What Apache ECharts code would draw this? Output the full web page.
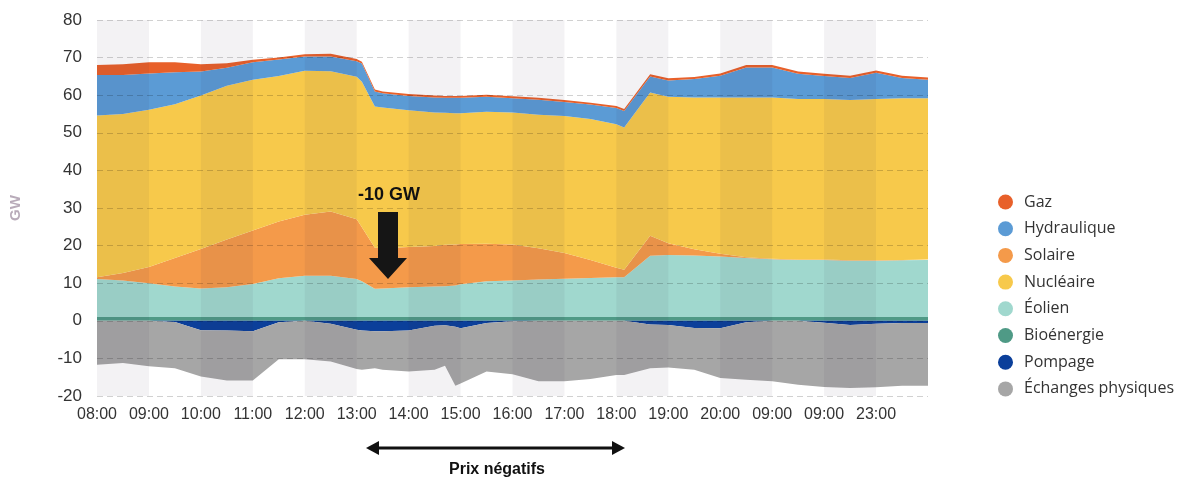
<!DOCTYPE html>
<html><head><meta charset="utf-8">
<script src="https://cdn.jsdelivr.net/npm/echarts@6/dist/echarts.min.js"></script>
<style>html,body{margin:0;padding:0;background:#fff}#c{width:1179px;height:479px}</style>
</head><body><div id="c"></div>
<script>
// Tick labels (one per column boundary)
const timeLabels = ['08:00','09:00','10:00','11:00','12:00','13:00','14:00','15:00','16:00','17:00','18:00','19:00','20:00','09:00','09:00','23:00'];
// Sample positions, in column units along the x axis
const xPos = [0,0.5,1,1.5,2,2.5,3,3.5,4,4.5,5,5.1,5.35,5.5,6,6.5,6.7,6.9,7,7.5,8,8.5,9,9.5,10,10.15,10.65,11,11.5,12,12.5,13,13.5,14,14.5,15,15.5,16];
// Series values (GW)
const bioenergie = [1.0,1.0,1.0,1.0,1.0,1.0,1.0,1.0,1.0,1.0,1.0,1.0,1.0,1.0,1.0,1.0,1.0,1.0,1.0,1.0,1.0,1.0,1.0,1.0,1.0,1.0,1.0,1.0,1.0,1.0,1.0,1.0,1.0,1.0,1.0,1.0,1.0,1.0];
const eolien = [10.1,9.7,9.0,8.1,7.6,7.9,8.8,10.3,11.0,11.0,10.1,9.5,7.5,7.6,7.9,8.1,8.2,8.4,8.7,9.5,9.7,10.0,10.2,10.4,10.6,10.6,16.3,16.5,16.4,16.1,15.7,15.4,15.2,15.2,15.0,15.0,15.1,15.2];
const solaire = [0.5,2.0,4.3,7.6,10.5,12.7,14.2,15.1,16.2,17.1,15.9,14.4,10.9,10.7,10.7,10.8,11.0,10.9,10.7,10.0,9.6,8.3,6.8,4.8,2.5,2.0,5.3,3.1,1.6,0.7,0.2,0.1,0.1,0.1,0.1,0.1,0.1,0.1];
const nucleaire = [43.0,42.3,41.8,40.9,40.8,40.9,40.1,38.7,38.3,37.3,37.9,38.7,37.6,37.4,36.4,35.5,35.1,34.9,34.8,35.1,35.1,35.5,36.5,37.5,38.2,37.8,38.1,39.0,40.4,41.6,42.5,42.9,42.7,42.7,42.6,42.9,43.0,42.9];
const hydraulique = [10.8,10.4,9.7,8.5,6.4,4.8,4.65,4.4,3.8,3.9,4.1,4.8,4.0,3.8,3.8,4.0,4.0,4.1,4.1,4.0,3.8,4.0,3.7,3.8,4.3,4.4,4.3,4.3,4.9,5.8,8.0,8.0,6.7,6.1,5.9,7.0,5.4,4.9];
const gaz = [2.6,2.8,2.95,2.65,1.9,1.2,0.65,0.5,0.6,0.7,0.6,0.5,0.5,0.5,0.5,0.5,0.5,0.5,0.5,0.5,0.5,0.5,0.5,0.5,0.5,0.5,0.6,0.6,0.55,0.6,0.6,0.6,0.6,0.6,0.6,0.6,0.6,0.6];
const pompage = [0,0,0,-0.3,-2.5,-2.6,-2.8,-0.4,0,-0.8,-2.4,-2.6,-2.8,-2.8,-2.6,-1.3,-1.2,-1.6,-2.0,-0.6,-0.1,0,0,0,0,0,-1.0,-1.1,-1.9,-2.0,-0.4,0,0,-0.5,-1.1,-0.8,-0.6,-0.6];
const echanges = [-11.7,-11.2,-12.1,-12.3,-12.3,-13.3,-13.1,-9.8,-10.2,-10.0,-10.4,-10.4,-9.8,-10.2,-10.9,-11.7,-10.75,-15.7,-14.7,-12.9,-14.1,-16.1,-16.1,-15.5,-14.4,-14.4,-11.6,-11.3,-11.1,-13.2,-15.3,-16.1,-17.0,-17.1,-16.8,-16.9,-16.7,-16.7];

const legendOrder = ['Gaz','Hydraulique','Solaire','Nucléaire','Éolien','Bioénergie','Pompage','Échanges physiques'];

const chart = echarts.init(document.getElementById('c'), null, {renderer:'canvas'});
// value first so the library stacks the GW dimension (x read from column 1)
const mk = (name, vals, color, stack) => ({
  name, type:'line', stack, data: xPos.map((x,i)=>[vals[i], x]), encode:{x:1, y:0},
  showSymbol:false, symbol:'none', lineStyle:{width:0}, itemStyle:{color},
  areaStyle:{color, opacity:1}, emphasis:{disabled:true}, z:2
});

const option = {
  animation:false,
  grid:{left:93, right:251, top:20, bottom:83, containLabel:false},
  xAxis:{type:'value', min:0, max:16, interval:1, z:5,
    axisLine:{show:false}, axisTick:{show:false}, splitLine:{show:false},
    splitArea:{show:true, areaStyle:{color:['rgba(50,30,70,0.06)','rgba(0,0,0,0)']}},
    axisLabel:{formatter:v => timeLabels[v] ?? '', fontSize:16, color:'#333', fontFamily:'Liberation Sans', margin:11}},
  yAxis:{type:'value', min:-20, max:80, interval:10, z:5,
    name:'GW', nameLocation:'middle', nameGap:74,
    nameTextStyle:{color:'#b8abb9', fontSize:15, fontWeight:'bold', fontFamily:'Liberation Sans'},
    axisLine:{show:false}, axisTick:{show:false},
    axisLabel:{fontSize:17, color:'#333', margin:15, fontFamily:'Liberation Sans'},
    splitLine:{lineStyle:{type:[6,4], color:'rgba(0,0,0,0.18)', width:1}}},
  legend:{orient:'vertical', left:993, top:189, itemWidth:15, itemHeight:15, itemGap:10.7,
    icon:'circle', data:legendOrder, selectedMode:false,
    textStyle:{fontSize:16, fontFamily:'Open Sans', color:'#333', padding:[0,0,0,6]}},
  graphic:[
    {type:'text', x:389, y:195, z:100, style:{text:'-10 GW', font:'bold 18px "Liberation Sans"', fill:'#111', align:'center', verticalAlign:'middle'}},
    {type:'polygon', z:100, shape:{points:[[378,212],[398,212],[398,258],[407,258],[388,279],[369,258],[378,258]]}, style:{fill:'#151515'}},
    {type:'line', z:100, shape:{x1:374,y1:448,x2:617,y2:448}, style:{stroke:'#111', lineWidth:3}},
    {type:'polygon', z:100, shape:{points:[[366,448],[379,441],[379,455]]}, style:{fill:'#111'}},
    {type:'polygon', z:100, shape:{points:[[625,448],[612,441],[612,455]]}, style:{fill:'#111'}},
    {type:'text', x:497, y:470, z:100, style:{text:'Prix négatifs', font:'bold 16px "Liberation Sans"', fill:'#111', align:'center', verticalAlign:'middle'}}
  ],
  series:[
    mk('Bioénergie', bioenergie, '#4f9a86', 'pos'),
    mk('Éolien', eolien, '#a0d8ce', 'pos'),
    mk('Solaire', solaire, '#f49a4a', 'pos'),
    mk('Nucléaire', nucleaire, '#f7c94b', 'pos'),
    mk('Hydraulique', hydraulique, '#5b9bd5', 'pos'),
    mk('Gaz', gaz, '#e8602a', 'pos'),
    mk('Pompage', pompage, '#0b3f9a', 'neg'),
    mk('Échanges physiques', echanges, '#a6a6a6', 'neg')
  ]
};
chart.setOption(option);
</script>
</body></html>
